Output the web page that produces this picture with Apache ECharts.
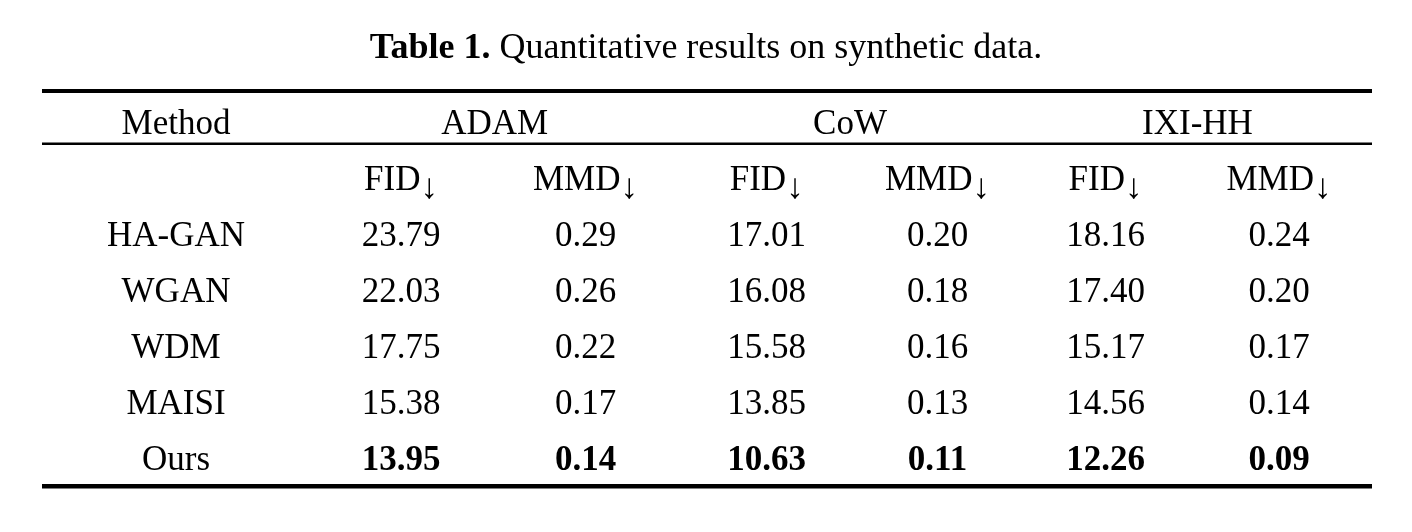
<!DOCTYPE html>
<html>
<head>
<meta charset="utf-8">
<script src="https://cdn.jsdelivr.net/npm/echarts@6/dist/echarts.min.js"></script>
<style>
html,body{margin:0;padding:0;background:#fff;}
#chart{width:1412px;height:532px;}
</style>
</head>
<body>
<div id="chart"></div>
<script>
// ---- data ----
const titleBold = 'Table 1.';
const titleText = 'Quantitative results on synthetic data.';
const methodHeader = 'Method';
const datasets = ['ADAM', 'CoW', 'IXI-HH'];
const metrics = ['FID\u2193', 'MMD\u2193'];
const methods = ['HA-GAN', 'WGAN', 'WDM', 'MAISI', 'Ours'];
const adamFID = [23.79, 22.03, 17.75, 15.38, 13.95];
const adamMMD = [0.29, 0.26, 0.22, 0.17, 0.14];
const cowFID  = [17.01, 16.08, 15.58, 13.85, 10.63];
const cowMMD  = [0.20, 0.18, 0.16, 0.13, 0.11];
const ixiFID  = [18.16, 17.40, 15.17, 14.56, 12.26];
const ixiMMD  = [0.24, 0.20, 0.17, 0.14, 0.09];

// ---- layout (positions in table units, separate from data) ----
const tableWidth = 1330;
const colX = [134, 359, 543.5, 724.7, 895.5, 1063.5, 1237];
const groupX = [452.7, 808, 1155.5];
const rules = [
  { row: -0.555, width: 4 },
  { row: 0.39, width: 2.5 },
  { row: 6.505, width: 4.5 }
];
const FONT = '"Liberation Serif", "Times New Roman", Times, serif';
const FS = 35;
const TEXT_DY = 3;
const ARROW = '\u2193';
const ARROW_DY = 8;

const measureCtx = document.createElement('canvas').getContext('2d');
function textWidth(str, font) { measureCtx.font = font; return measureCtx.measureText(str).width; }

// ---- build cells ----
const valueCols = [adamFID, adamMMD, cowFID, cowMMD, ixiFID, ixiMMD];
const cells = [];
cells.push({ x: colX[0], row: 0, text: methodHeader, bold: false });
datasets.forEach((d, i) => cells.push({ x: groupX[i], row: 0, text: d, bold: false }));
datasets.forEach((d, i) => metrics.forEach((m, j) =>
  cells.push({ x: colX[1 + i * 2 + j], row: 1, text: m, bold: false })));
methods.forEach((m, r) => {
  cells.push({ x: colX[0], row: 2 + r, text: m, bold: false });
  valueCols.forEach((col, c) => {
    const best = Math.min.apply(null, col);
    cells.push({ x: colX[1 + c], row: 2 + r, text: col[r].toFixed(2), bold: col[r] === best });
  });
});

const chart = echarts.init(document.getElementById('chart'), null, { renderer: 'canvas' });
chart.setOption({
  animation: false,
  backgroundColor: '#fff',
  title: {
    left: 'center',
    top: 31,
    padding: 0,
    text: '{b|' + titleBold + ' }{r|' + titleText + '}',
    textStyle: {
      rich: {
        b: { fontFamily: FONT, fontSize: 36, fontWeight: 'bold', color: '#000', lineHeight: 36 },
        r: { fontFamily: FONT, fontSize: 36, fontWeight: 'normal', color: '#000', lineHeight: 36 }
      }
    }
  },
  grid: { left: 42, width: tableWidth, top: 94, height: 392 },
  xAxis: { type: 'value', min: 0, max: tableWidth, show: false },
  yAxis: { type: 'value', min: -0.5, max: 6.5, inverse: true, show: false },
  series: [
    {
      type: 'custom',
      coordinateSystem: 'cartesian2d',
      silent: true,
      clip: false,
      data: rules.map(r => [0, r.row]),
      renderItem: function (params, api) {
        const r = rules[params.dataIndex];
        const p1 = api.coord([0, api.value(1)]);
        const p2 = api.coord([tableWidth, api.value(1)]);
        return {
          type: 'line',
          shape: { x1: p1[0], y1: p1[1], x2: p2[0], y2: p2[1] },
          style: { stroke: '#000', lineWidth: r.width }
        };
      }
    },
    {
      type: 'custom',
      coordinateSystem: 'cartesian2d',
      silent: true,
      clip: false,
      data: cells.map(c => [c.x, c.row]),
      renderItem: function (params, api) {
        const c = cells[params.dataIndex];
        const p = api.coord([api.value(0), api.value(1)]);
        const font = (c.bold ? 'bold ' : '') + FS + 'px ' + FONT;
        if (c.text.endsWith(ARROW)) {
          const main = c.text.slice(0, -1);
          const wMain = textWidth(main, font);
          const wArrow = textWidth(ARROW, font);
          const left = p[0] - (wMain + wArrow) / 2;
          return {
            type: 'group',
            children: [
              { type: 'text', x: left, y: p[1] + TEXT_DY,
                style: { text: main, font: font, fill: '#000', align: 'left', verticalAlign: 'middle' } },
              { type: 'text', x: left + wMain, y: p[1] + TEXT_DY + ARROW_DY,
                style: { text: ARROW, font: font, fill: '#000', align: 'left', verticalAlign: 'middle' } }
            ]
          };
        }
        return {
          type: 'text',
          x: p[0],
          y: p[1] + TEXT_DY,
          style: { text: c.text, font: font, fill: '#000', align: 'center', verticalAlign: 'middle' }
        };
      }
    }
  ]
});
</script>
</body>
</html>
